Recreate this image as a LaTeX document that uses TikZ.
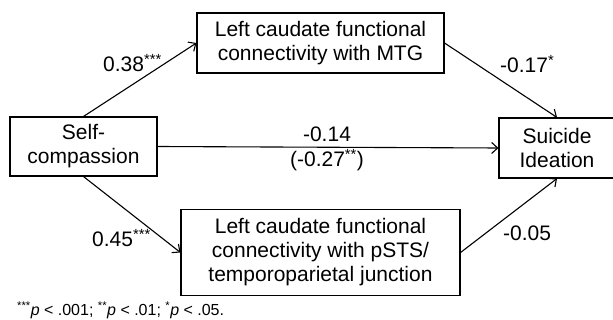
\documentclass[tikz,border=0pt]{standalone}
\usepackage{fontspec}
\setmainfont{Liberation Sans}
\usetikzlibrary{arrows.meta}

\begin{document}
\begin{tikzpicture}[x=1pt,y=-1pt,
    box/.style={draw,line width=1.1pt,align=center,inner sep=0pt,
      font=\fontsize{21}{24}\selectfont},
    coef/.style={inner sep=0pt,font=\fontsize{21}{24}\selectfont},
    path/.style={line width=1.1pt,-{Straight Barb[length=6pt,width=11pt]}}]
  \useasboundingbox (0,0) rectangle (613,320);

  \node [box,minimum width=147,minimum height=59] (SC) at (83.5,146.5) {Self-\\compassion};
  \node [box,minimum width=247,minimum height=60] (MTG) at (320.5,43) {Left caudate functional\\connectivity with MTG};
  \node [box,minimum width=279,minimum height=86] (PSTS) at (320.5,252.5) {Left caudate functional\\connectivity with pSTS/\\temporoparietal junction};
  \node [box,minimum width=116,minimum height=60] (SI) at (557,148) {Suicide\\Ideation};

  \draw [path] (SC.north) -- (MTG.west);
  \draw [path] (MTG.east) -- (SI.north);
  \draw [path] (SC.east) -- (SI.west);
  \draw [path] (SC.south) -- (PSTS.west);
  \draw [path] (PSTS.east) -- (SI.south);

  \node [coef,anchor=base west] (a1) at (103,72) {0.38\textsuperscript{***}};
  \node [coef,anchor=base west] (b1) at (500,73) {-0.17\textsuperscript{*}};
  \node [coef,anchor=base] (c) at (327,142) {-0.14};
  \node [coef,anchor=base] (cp) at (327,167) {(-0.27\textsuperscript{**})};
  \node [coef,anchor=base west] (a2) at (92,247) {0.45\textsuperscript{***}};
  \node [coef,anchor=base west] (b2) at (503,241) {-0.05};

  \node [anchor=base west,inner sep=0pt,font=\fontsize{16}{18}\selectfont] (note) at (17,316)
    {\textsuperscript{***}\textit{p} < .001; \textsuperscript{**}\textit{p} < .01; \textsuperscript{*}\textit{p} < .05.};
\end{tikzpicture}
\end{document}
